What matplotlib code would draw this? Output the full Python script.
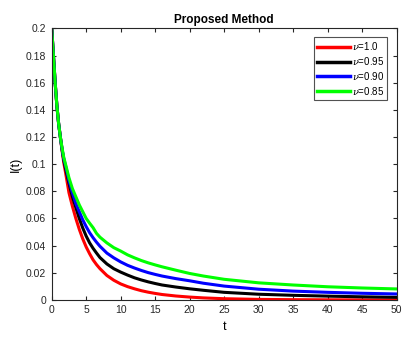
#!/usr/bin/env python3
"""
Recreate the 'Proposed Method' decay curves chart (MATLAB-style).
"""

import matplotlib

matplotlib.use("Agg")

import matplotlib.pyplot as plt

plt.rcParams.update(
    {
        "font.family": ["Liberation Sans", "DejaVu Sans"],
        "mathtext.fontset": "dejavuserif",
    }
)

# values
t = [0, 0.25, 0.5, 0.75, 1, 1.25, 1.5, 1.75, 2, 2.5, 3, 3.5, 4, 4.5, 5, 5.5, 6, 6.5, 7,
     8, 9, 10, 11, 12, 13, 14, 15, 16, 18, 20, 22, 25, 30, 35, 40, 45, 50]
i_nu100 = [0.2, 0.180, 0.160, 0.143, 0.130, 0.120, 0.110, 0.101, 0.094, 0.079, 0.069, 0.060,
           0.052, 0.045, 0.039, 0.034, 0.0295, 0.026, 0.023,
           0.018, 0.0145, 0.0118, 0.0098, 0.0082, 0.0068, 0.0057, 0.0048, 0.0040, 0.0029,
           0.0021, 0.0015, 0.0009, 0.0004, 0.0002, 0.0001, 0.00005, 0.0]
i_nu095 = [0.2, 0.180, 0.160, 0.143, 0.130, 0.120, 0.111, 0.103, 0.097, 0.086, 0.076, 0.068,
           0.060, 0.053, 0.047, 0.042, 0.038, 0.0345, 0.0312,
           0.0265, 0.023, 0.0205, 0.0183, 0.0163, 0.0147, 0.0133, 0.0121, 0.0110, 0.0095,
           0.0082, 0.0071, 0.0056, 0.0042, 0.0034, 0.0028, 0.0023, 0.0019]
i_nu090 = [0.2, 0.180, 0.160, 0.143, 0.130, 0.120, 0.111, 0.104, 0.099, 0.088, 0.079, 0.071,
           0.065, 0.059, 0.054, 0.0495, 0.0458, 0.0425, 0.0395,
           0.0345, 0.031, 0.028, 0.0255, 0.0235, 0.0217, 0.0201, 0.0188, 0.0176, 0.0157,
           0.0141, 0.0123, 0.0102, 0.0079, 0.0065, 0.0056, 0.0049, 0.0044]
i_nu085 = [0.2, 0.180, 0.160, 0.143, 0.130, 0.120, 0.112, 0.105, 0.100, 0.090, 0.082, 0.076,
           0.070, 0.065, 0.060, 0.0565, 0.0532, 0.049, 0.0462,
           0.042, 0.0385, 0.036, 0.0332, 0.031, 0.029, 0.0273, 0.0258, 0.0244, 0.0219,
           0.0195, 0.0176, 0.0152, 0.0126, 0.0110, 0.0097, 0.0088, 0.0081]

series = [
    (i_nu100, "#ff0000", r"$\nu$=1.0"),
    (i_nu095, "#000000", r"$\nu$=0.95"),
    (i_nu090, "#0000ff", r"$\nu$=0.90"),
    (i_nu085, "#00ff00", r"$\nu$=0.85"),
]

xticks = [0, 5, 10, 15, 20, 25, 30, 35, 40, 45, 50]
yticks = [0, 0.02, 0.04, 0.06, 0.08, 0.1, 0.12, 0.14, 0.16, 0.18, 0.2]
ytick_labels = ["0", "0.02", "0.04", "0.06", "0.08", "0.1", "0.12", "0.14", "0.16", "0.18", "0.2"]

fig = plt.figure(figsize=(4.17, 3.42), dpi=100, facecolor="white")
ax = fig.add_axes([0.124, 0.123, 0.827, 0.794])

for values, color, label in series:
    ax.plot(t, values, color=color, linewidth=2.2, label=label,
            solid_joinstyle="round")

ax.set_xlim(0, 50)
ax.set_ylim(0, 0.2)
ax.set_xticks(xticks)
ax.set_yticks(yticks)
ax.set_yticklabels(ytick_labels)
ax.tick_params(direction="in", top=True, right=True, length=3, width=0.8,
               labelsize=7.5, colors="#262626", pad=4)
for spine in ax.spines.values():
    spine.set_color("#262626")
    spine.set_linewidth(0.8)

ax.set_title("Proposed Method", fontsize=8.5, fontweight="bold", pad=4)
ax.set_xlabel("t", fontsize=9, labelpad=4)
ax.set_ylabel("I(t)", fontsize=9, labelpad=3)

leg = ax.legend(loc="upper right", fontsize=7, handlelength=3.4, handletextpad=0.15,
                borderpad=0.3, labelspacing=0.3, frameon=True, fancybox=False,
                borderaxespad=0, bbox_to_anchor=(0.972, 0.968))
leg.get_frame().set_edgecolor("#262626")
leg.get_frame().set_linewidth(0.8)
for line in leg.get_lines():
    line.set_linewidth(2.5)

fig.savefig("out.png", dpi=100)
